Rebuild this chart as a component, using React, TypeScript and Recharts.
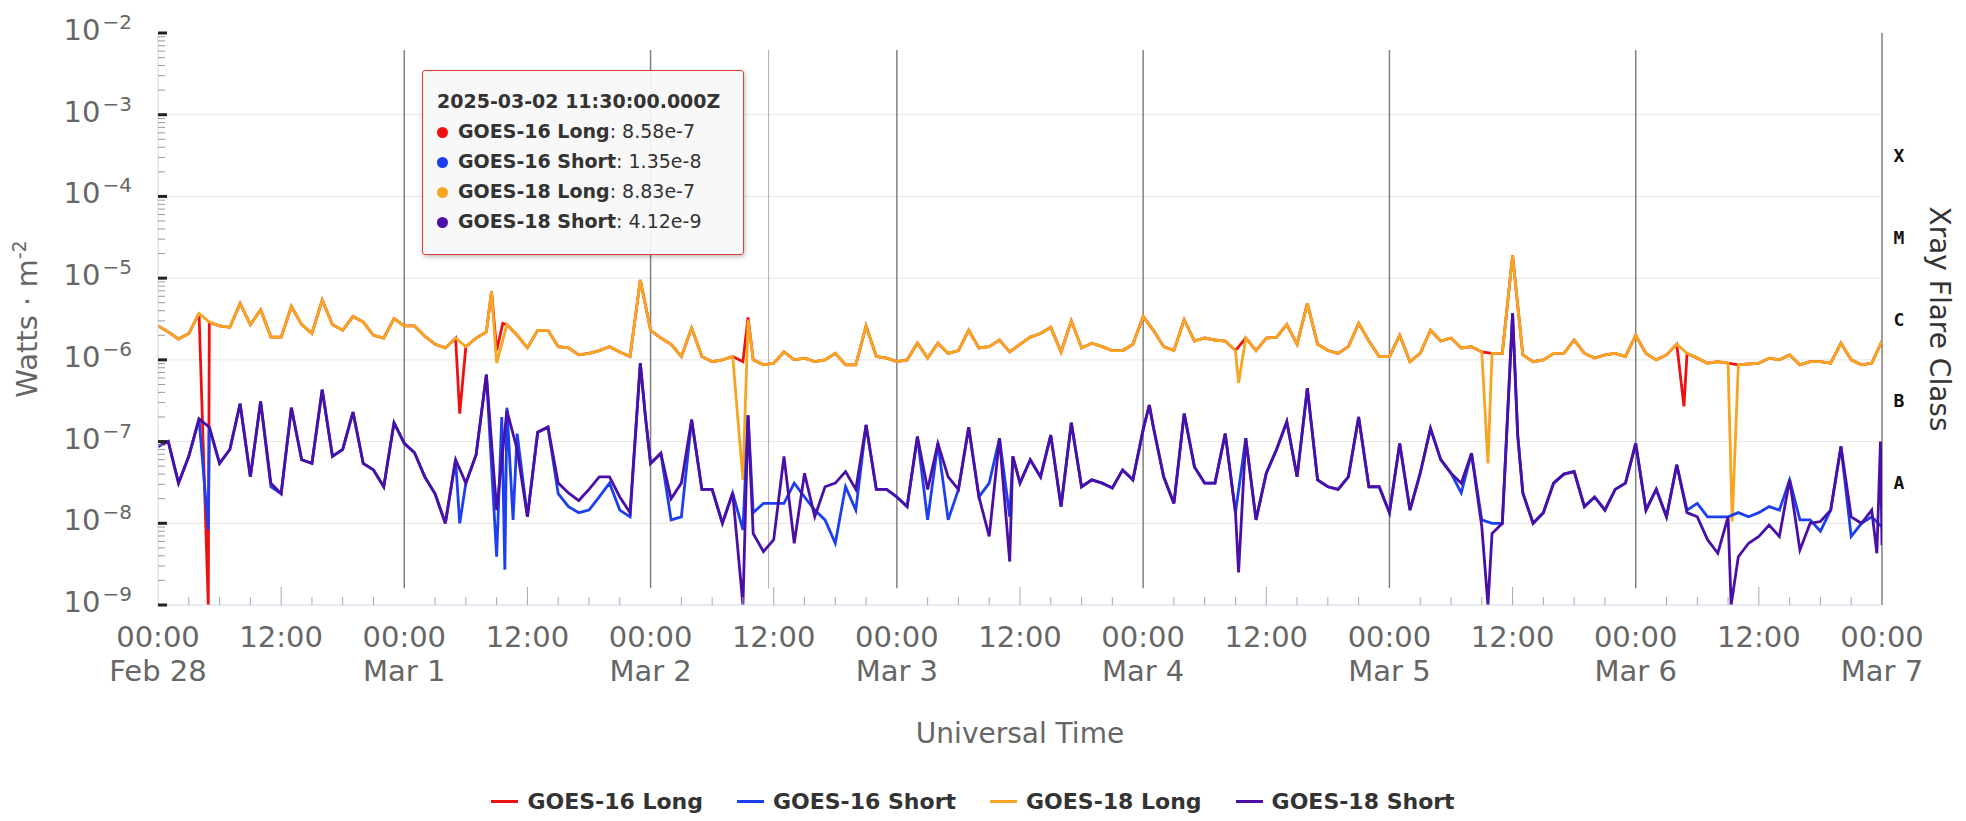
import { LineChart, Line, XAxis, YAxis, ReferenceLine, Legend } from "recharts";

const FONT = "'DejaVu Sans', Verdana, sans-serif";
const MONO = "'DejaVu Sans Mono', monospace";

// x = hours after 2025-02-28 00:00 UTC, hourly samples 0..168
const dayLabels = ["Feb 28", "Mar 1", "Mar 2", "Mar 3", "Mar 4", "Mar 5", "Mar 6", "Mar 7"];
const clockLabels = ["00:00", "12:00"];
const timeTicks = Array.from({ length: 57 }, (_, i) => i * 3);
const decades = [-9, -8, -7, -6, -5, -4, -3, -2];
const flareClasses = ["A", "B", "C", "M", "X"];
const flareFloors = [1e-8, 1e-7, 1e-6, 1e-5, 1e-4];

const tipTime = "2025-03-02 11:30:00.000Z";
const tipHour = 59.5;
const tipValues = [8.58e-7, 1.35e-8, 8.83e-7, 4.12e-9];

const g18Long = [
  2.6e-6, 2.2e-6, 1.8e-6, 2.1e-6, 3.7e-6, 2.9e-6, 2.6e-6, 2.5e-6, 4.9e-6, 2.7e-6, 4.1e-6, 1.9e-6,
  1.9e-6, 4.5e-6, 2.7e-6, 2.1e-6, 5.4e-6, 2.7e-6, 2.3e-6, 3.4e-6, 2.9e-6, 2.0e-6, 1.85e-6, 3.2e-6,
  2.6e-6, 2.6e-6, 1.95e-6, 1.55e-6, 1.4e-6, 1.85e-6, 1.45e-6, 1.85e-6, 2.2e-6, 9.1e-7, 2.7e-6, 2.0e-6,
  1.4e-6, 2.3e-6, 2.3e-6, 1.45e-6, 1.4e-6, 1.15e-6, 1.2e-6, 1.3e-6, 1.45e-6, 1.25e-6, 1.1e-6, 9.5e-6,
  2.3e-6, 1.85e-6, 1.55e-6, 1.1e-6, 2.45e-6, 1.1e-6, 9.5e-7, 1.0e-6, 1.1e-6, 3.4e-8, 1.0e-6, 8.7e-7,
  9.1e-7, 1.25e-6, 1.0e-6, 1.05e-6, 9.5e-7, 1.0e-6, 1.2e-6, 8.7e-7, 8.7e-7, 2.6e-6, 1.1e-6, 1.05e-6,
  9.5e-7, 1.0e-6, 1.6e-6, 1.05e-6, 1.6e-6, 1.2e-6, 1.3e-6, 2.3e-6, 1.4e-6, 1.45e-6, 1.75e-6, 1.25e-6,
  1.55e-6, 1.9e-6, 2.1e-6, 2.5e-6, 1.25e-6, 3.0e-6, 1.4e-6, 1.6e-6, 1.45e-6, 1.3e-6, 1.3e-6, 1.55e-6,
  3.4e-6, 2.3e-6, 1.45e-6, 1.3e-6, 3.1e-6, 1.7e-6, 1.85e-6, 1.75e-6, 1.7e-6, 1.3e-6, 1.85e-6, 1.3e-6,
  1.85e-6, 1.9e-6, 2.7e-6, 1.55e-6, 4.9e-6, 1.55e-6, 1.3e-6, 1.2e-6, 1.45e-6, 2.8e-6, 1.7e-6, 1.1e-6,
  1.1e-6, 2.0e-6, 9.5e-7, 1.2e-6, 2.3e-6, 1.7e-6, 1.85e-6, 1.4e-6, 1.45e-6, 1.25e-6, 1.2e-6, 1.2e-6,
  1.9e-5, 1.15e-6, 9.5e-7, 1.0e-6, 1.2e-6, 1.2e-6, 1.75e-6, 1.2e-6, 1.05e-6, 1.15e-6, 1.2e-6, 1.1e-6,
  2.0e-6, 1.2e-6, 1.0e-6, 1.15e-6, 1.55e-6, 1.2e-6, 1.05e-6, 9.1e-7, 9.5e-7, 9.1e-7, 8.7e-7, 8.9e-7,
  9.1e-7, 1.05e-6, 1.0e-6, 1.15e-6, 8.7e-7, 9.5e-7, 9.5e-7, 9.1e-7, 1.6e-6, 1.0e-6, 8.7e-7, 9.1e-7,
  1.7e-6,
];

const g16Long = [
  2.6e-6, 2.2e-6, 1.8e-6, 2.1e-6, 3.7e-6, 2.9e-6, 2.6e-6, 2.5e-6, 4.9e-6, 2.7e-6, 4.1e-6, 1.9e-6,
  1.9e-6, 4.5e-6, 2.7e-6, 2.1e-6, 5.4e-6, 2.7e-6, 2.3e-6, 3.4e-6, 2.9e-6, 2.0e-6, 1.85e-6, 3.2e-6,
  2.6e-6, 2.6e-6, 1.95e-6, 1.55e-6, 1.4e-6, 1.85e-6, 1.45e-6, 1.85e-6, 2.2e-6, 1.3e-6, 2.7e-6, 2.0e-6,
  1.4e-6, 2.3e-6, 2.3e-6, 1.45e-6, 1.4e-6, 1.15e-6, 1.2e-6, 1.3e-6, 1.45e-6, 1.25e-6, 1.1e-6, 9.5e-6,
  2.3e-6, 1.85e-6, 1.55e-6, 1.1e-6, 2.45e-6, 1.1e-6, 9.5e-7, 1.0e-6, 1.1e-6, 9.5e-7, 1.0e-6, 8.7e-7,
  9.1e-7, 1.25e-6, 1.0e-6, 1.05e-6, 9.5e-7, 1.0e-6, 1.2e-6, 8.7e-7, 8.7e-7, 2.6e-6, 1.1e-6, 1.05e-6,
  9.5e-7, 1.0e-6, 1.6e-6, 1.05e-6, 1.6e-6, 1.2e-6, 1.3e-6, 2.3e-6, 1.4e-6, 1.45e-6, 1.75e-6, 1.25e-6,
  1.55e-6, 1.9e-6, 2.1e-6, 2.5e-6, 1.25e-6, 3.0e-6, 1.4e-6, 1.6e-6, 1.45e-6, 1.3e-6, 1.3e-6, 1.55e-6,
  3.4e-6, 2.3e-6, 1.45e-6, 1.3e-6, 3.1e-6, 1.7e-6, 1.85e-6, 1.75e-6, 1.7e-6, 1.3e-6, 1.85e-6, 1.3e-6,
  1.85e-6, 1.9e-6, 2.7e-6, 1.55e-6, 4.9e-6, 1.55e-6, 1.3e-6, 1.2e-6, 1.45e-6, 2.8e-6, 1.7e-6, 1.1e-6,
  1.1e-6, 2.0e-6, 9.5e-7, 1.2e-6, 2.3e-6, 1.7e-6, 1.85e-6, 1.4e-6, 1.45e-6, 1.25e-6, 1.2e-6, 1.2e-6,
  1.9e-5, 1.15e-6, 9.5e-7, 1.0e-6, 1.2e-6, 1.2e-6, 1.75e-6, 1.2e-6, 1.05e-6, 1.15e-6, 1.2e-6, 1.1e-6,
  2.0e-6, 1.2e-6, 1.0e-6, 1.15e-6, 1.55e-6, 1.2e-6, 1.05e-6, 9.1e-7, 9.5e-7, 9.1e-7, 8.7e-7, 8.9e-7,
  9.1e-7, 1.05e-6, 1.0e-6, 1.15e-6, 8.7e-7, 9.5e-7, 9.5e-7, 9.1e-7, 1.6e-6, 1.0e-6, 8.7e-7, 9.1e-7,
  1.7e-6,
];

const g18Short = [
  8.7e-8, 1.0e-7, 3.1e-8, 6.6e-8, 1.9e-7, 1.5e-7, 5.4e-8, 8.0e-8, 2.9e-7, 3.7e-8, 3.1e-7, 3.1e-8,
  2.3e-8, 2.6e-7, 6.0e-8, 5.4e-8, 4.3e-7, 6.6e-8, 8.0e-8, 2.3e-7, 5.4e-8, 4.5e-8, 2.8e-8, 1.7e-7,
  9.5e-8, 7.3e-8, 3.7e-8, 2.3e-8, 1.0e-8, 6.0e-8, 3.1e-8, 6.9e-8, 6.6e-7, 1.45e-8, 2.4e-7, 8.0e-8,
  1.2e-8, 1.3e-7, 1.5e-7, 3.1e-8, 2.35e-8, 1.9e-8, 2.6e-8, 3.7e-8, 3.7e-8, 2.1e-8, 1.35e-8, 9.1e-7,
  5.4e-8, 7.2e-8, 2.0e-8, 3.1e-8, 1.85e-7, 2.6e-8, 2.6e-8, 1.0e-8, 2.35e-8, 1.0e-9, 7.5e-9, 4.5e-9,
  6.3e-9, 6.6e-8, 5.7e-9, 4.1e-8, 1.2e-8, 2.8e-8, 3.1e-8, 4.3e-8, 2.6e-8, 1.6e-7, 2.6e-8, 2.6e-8,
  2.1e-8, 1.6e-8, 1.15e-7, 2.6e-8, 9.5e-8, 3.7e-8, 2.6e-8, 1.5e-7, 2.1e-8, 6.9e-9, 1.1e-7, 3.4e-9,
  3.1e-8, 6.0e-8, 3.7e-8, 1.2e-7, 1.6e-8, 1.7e-7, 2.8e-8, 3.4e-8, 3.1e-8, 2.7e-8, 4.5e-8, 3.4e-8,
  1.4e-7, 1.5e-7, 3.7e-8, 1.75e-8, 2.2e-7, 4.9e-8, 3.1e-8, 3.1e-8, 1.25e-7, 1.35e-8, 1.1e-7, 1.1e-8,
  4.1e-8, 8.0e-8, 1.75e-7, 3.7e-8, 4.5e-7, 3.4e-8, 2.8e-8, 2.6e-8, 3.7e-8, 2.0e-7, 2.8e-8, 2.8e-8,
  1.35e-8, 9.5e-8, 1.45e-8, 4.1e-8, 1.45e-7, 6.0e-8, 4.1e-8, 3.1e-8, 7.2e-8, 9.1e-9, 7.5e-9, 1.0e-8,
  3.7e-6, 2.35e-8, 1.0e-8, 1.35e-8, 3.1e-8, 4.0e-8, 4.3e-8, 1.6e-8, 2.1e-8, 1.45e-8, 2.6e-8, 3.1e-8,
  9.5e-8, 1.45e-8, 2.6e-8, 1.2e-8, 5.2e-8, 1.35e-8, 1.2e-8, 6.3e-9, 4.3e-9, 1.2e-8, 3.9e-9, 5.7e-9,
  6.9e-9, 9.5e-9, 6.9e-9, 3.4e-8, 4.7e-9, 1.0e-8, 1.05e-8, 1.45e-8, 8.7e-8, 1.2e-8, 1.0e-8, 1.45e-8,
  5.4e-9,
];

const g16Short = [
  8.7e-8, 1.0e-7, 3.1e-8, 6.6e-8, 1.9e-7, 1.5e-7, 5.4e-8, 8.0e-8, 2.9e-7, 3.7e-8, 3.1e-7, 2.8e-8,
  2.3e-8, 2.6e-7, 6.0e-8, 5.4e-8, 4.3e-7, 6.6e-8, 8.0e-8, 2.3e-7, 5.4e-8, 4.5e-8, 2.8e-8, 1.7e-7,
  9.5e-8, 7.3e-8, 3.7e-8, 2.3e-8, 1.0e-8, 6.0e-8, 3.1e-8, 6.9e-8, 6.6e-7, 3.9e-9, 2.6e-7, 1.25e-7,
  1.2e-8, 1.3e-7, 1.5e-7, 2.3e-8, 1.6e-8, 1.35e-8, 1.45e-8, 2.1e-8, 3.1e-8, 1.45e-8, 1.2e-8, 9.1e-7,
  5.4e-8, 7.2e-8, 1.1e-8, 1.2e-8, 1.85e-7, 2.6e-8, 2.6e-8, 1.0e-8, 2.35e-8, 8.3e-9, 1.35e-8, 1.75e-8,
  1.75e-8, 1.75e-8, 3.1e-8, 2.1e-8, 1.45e-8, 1.1e-8, 5.7e-9, 2.8e-8, 1.45e-8, 1.6e-7, 2.6e-8, 2.6e-8,
  2.1e-8, 1.6e-8, 1.15e-7, 1.1e-8, 9.5e-8, 1.1e-8, 2.6e-8, 1.5e-7, 2.1e-8, 3.1e-8, 1.1e-7, 1.2e-8,
  3.1e-8, 6.0e-8, 3.7e-8, 1.2e-7, 1.6e-8, 1.7e-7, 2.8e-8, 3.4e-8, 3.1e-8, 2.7e-8, 4.5e-8, 3.4e-8,
  1.4e-7, 1.5e-7, 3.7e-8, 1.75e-8, 2.2e-7, 4.9e-8, 3.1e-8, 3.1e-8, 1.25e-7, 1.35e-8, 1.1e-7, 1.1e-8,
  4.1e-8, 8.0e-8, 1.75e-7, 3.7e-8, 4.5e-7, 3.4e-8, 2.8e-8, 2.6e-8, 3.7e-8, 2.0e-7, 2.8e-8, 2.8e-8,
  1.35e-8, 9.5e-8, 1.45e-8, 4.1e-8, 1.45e-7, 6.0e-8, 4.1e-8, 2.35e-8, 7.2e-8, 1.1e-8, 1.0e-8, 1.0e-8,
  3.7e-6, 2.35e-8, 1.0e-8, 1.35e-8, 3.1e-8, 4.0e-8, 4.3e-8, 1.6e-8, 2.1e-8, 1.45e-8, 2.6e-8, 3.1e-8,
  9.5e-8, 1.45e-8, 2.6e-8, 1.2e-8, 5.2e-8, 1.45e-8, 1.75e-8, 1.2e-8, 1.2e-8, 1.2e-8, 1.35e-8, 1.2e-8,
  1.35e-8, 1.6e-8, 1.45e-8, 3.4e-8, 1.1e-8, 1.1e-8, 8.0e-9, 1.45e-8, 8.7e-8, 6.9e-9, 1.0e-8, 1.2e-8,
  9.0e-9,
];

// sub-hourly samples: dropouts and sharp flare peaks [hour, W/m2]
const g16LongExtra: [number, number][] = [
  [4.9, 1.0e-9], [29.4, 2.2e-7], [32.5, 6.9e-6], [33.6, 2.8e-6], [57.5, 3.3e-6], [148.7, 2.7e-7],
];
const g18LongExtra: [number, number][] = [
  [32.5, 6.9e-6], [57.5, 3.1e-6], [105.3, 5.2e-7], [129.6, 5.4e-8], [153.4, 1.05e-8],
];
const g16ShortExtra: [number, number][] = [
  [4.9, 8.3e-9], [29.4, 1.0e-8], [33.5, 2.0e-7], [33.8, 2.7e-9], [34.6, 1.1e-8], [47.5, 2.0e-7],
  [57.5, 2.1e-7], [83.3, 6.6e-8], [96.6, 2.8e-7], [132.5, 1.2e-7],
];
const g18ShortExtra: [number, number][] = [
  [47.5, 2.0e-7], [57.5, 2.1e-7], [83.3, 6.6e-8], [96.6, 2.8e-7], [105.3, 2.5e-9], [129.6, 1.0e-9],
  [132.5, 1.2e-7], [153.3, 1.0e-9], [167.5, 4.3e-9], [167.85, 1.0e-7],
];

const series = [
  { name: "GOES-16 Long", color: "#ee1111", hourly: g16Long, extra: g16LongExtra },
  { name: "GOES-16 Short", color: "#1c3ff0", hourly: g16Short, extra: g16ShortExtra },
  { name: "GOES-18 Long", color: "#f6a623", hourly: g18Long, extra: g18LongExtra },
  { name: "GOES-18 Short", color: "#4a0fa6", hourly: g18Short, extra: g18ShortExtra },
];
const drawOrder = [0, 2, 1, 3];

const rows = (hourly: number[], extra: [number, number][]) =>
  [...hourly.map((v, t) => ({ t, v })), ...extra.map(([t, v]) => ({ t, v }))].sort((a, b) => a.t - b.t);

const wattTicks = decades.flatMap((e) =>
  e === -2 ? [10 ** e] : [1, 2, 3, 4, 5, 6, 7, 8, 9].map((m) => m * 10 ** e)
);
const classTicks = flareFloors.map((f) => f * Math.sqrt(10));

// vertical day lines stop a little short of both plot edges
const lineLo = 1.6e-9;
const lineHi = 6.2e-3;

function BottomTick(props: any) {
  const { x, y, payload } = props;
  const h = payload.value as number;
  const major = h % 12 === 0;
  const len = h % 24 === 0 ? 0 : major ? 18 : 8;
  return (
    <g>
      {len > 0 && <line x1={x} x2={x} y1={y} y2={y - len} stroke="#aaa" />}
      {major && (
        <text x={x} y={y + 42} textAnchor="middle" fill="#666" fontSize={29} fontFamily={FONT}>
          <tspan x={x}>{clockLabels[(h / 12) % 2]}</tspan>
          {h % 24 === 0 && (
            <tspan x={x} dy={34}>
              {dayLabels[h / 24]}
            </tspan>
          )}
        </text>
      )}
    </g>
  );
}

function TopTick(props: any) {
  const { x, y, payload } = props;
  const h = payload.value as number;
  const len = h % 24 === 0 ? 0 : h % 12 === 0 ? 18 : 8;
  if (!len) return <g />;
  return <line x1={x} x2={x} y1={y} y2={y + len} stroke="#aaa" />;
}

function WattTick(props: any) {
  const { x, y, payload } = props;
  const lg = Math.log10(payload.value);
  const e = Math.round(lg);
  if (Math.abs(lg - e) > 1e-6) return <line x1={x} x2={x + 7} y1={y} y2={y} stroke="#999" />;
  return (
    <g>
      <line x1={x} x2={x + 9} y1={y} y2={y} stroke="#222" strokeWidth={3} />
      <text x={x - 26} y={y + 7} textAnchor="end" fill="#666" fontFamily={FONT}>
        <tspan fontSize={29}>10</tspan>
        <tspan fontSize={20} dx={2} dy={-11}>
          {"\u2212" + Math.abs(e)}
        </tspan>
      </text>
    </g>
  );
}

function ClassTick(props: any) {
  const { x, y, payload } = props;
  const i = flareFloors.findIndex((f) => Math.abs(Math.log10(payload.value / f) - 0.5) < 1e-6);
  return (
    <text x={x + 17} y={y} textAnchor="middle" dominantBaseline="central" fill="#111" fontSize={18} fontWeight="bold" fontFamily={MONO}>
      {flareClasses[i]}
    </text>
  );
}

function WattLabel(props: any) {
  const { viewBox } = props;
  const cx = viewBox.x + 27;
  const cy = viewBox.y + viewBox.height / 2;
  return (
    <text transform={`rotate(-90 ${cx} ${cy})`} x={cx} y={cy + 10} textAnchor="middle" fill="#666" fontSize={29} fontFamily={FONT}>
      Watts · m
      <tspan fontSize={19} dy={-11}>
        -2
      </tspan>
    </text>
  );
}

function ClassLabel(props: any) {
  const { viewBox } = props;
  const cx = viewBox.x + 58;
  const cy = viewBox.y + viewBox.height / 2;
  return (
    <text transform={`rotate(90 ${cx} ${cy})`} x={cx} y={cy + 10} textAnchor="middle" fill="#333" fontSize={28} fontFamily={FONT}>
      Xray Flare Class
    </text>
  );
}

function TimeLabel(props: any) {
  const { viewBox } = props;
  return (
    <text x={viewBox.x + viewBox.width / 2} y={viewBox.y + 138} textAnchor="middle" fill="#666" fontSize={28} fontFamily={FONT}>
      Universal Time
    </text>
  );
}

function LegendRow() {
  return (
    <div style={{ display: "flex", justifyContent: "center", alignItems: "center", gap: 34, fontFamily: FONT, fontWeight: "bold", fontSize: 22, color: "#333" }}>
      {series.map((s) => (
        <div key={s.name} style={{ display: "flex", alignItems: "center" }}>
          <span style={{ display: "inline-block", width: 27, height: 3, background: s.color, marginRight: 9 }} />
          <span>{s.name}</span>
        </div>
      ))}
    </div>
  );
}

export default function App() {
  return (
    <div style={{ position: "absolute", left: 0, top: 0, width: 1966, height: 821, background: "#fff", fontFamily: FONT }}>
      <LineChart width={1966} height={821} margin={{ top: 33, right: 0, bottom: 0, left: 0 }}>
        <XAxis
          xAxisId="t"
          dataKey="t"
          type="number"
          domain={[0, 168]}
          ticks={timeTicks}
          interval={0}
          allowDataOverflow
          height={216}
          tickSize={0}
          tickMargin={0}
          tickLine={false}
          axisLine={{ stroke: "#ccd6eb" }}
          tick={<BottomTick />}
          label={<TimeLabel />}
        />
        <XAxis
          xAxisId="top"
          dataKey="t"
          orientation="top"
          type="number"
          domain={[0, 168]}
          ticks={timeTicks}
          interval={0}
          height={0}
          tickSize={0}
          tickMargin={0}
          tickLine={false}
          axisLine={{ stroke: "#ccd6eb", strokeWidth: 2 }}
          tick={<TopTick />}
        />
        <YAxis
          yAxisId="w"
          scale="log"
          domain={[1e-9, 1e-2]}
          allowDataOverflow
          ticks={wattTicks}
          interval={0}
          width={158}
          tickSize={0}
          tickMargin={0}
          tickLine={false}
          axisLine={{ stroke: "#ccd6eb" }}
          tick={<WattTick />}
          label={<WattLabel />}
        />
        <YAxis
          yAxisId="cls"
          orientation="right"
          scale="log"
          domain={[1e-9, 1e-2]}
          allowDataOverflow
          ticks={classTicks}
          interval={0}
          width={84}
          tickSize={0}
          tickMargin={0}
          tickLine={false}
          axisLine={false}
          tick={<ClassTick />}
          label={<ClassLabel />}
        />

        {decades.slice(1, -1).map((e) => (
          <ReferenceLine key={e} xAxisId="t" yAxisId="w" y={10 ** e} stroke="#e6e6e6" />
        ))}
        {[1, 2, 3, 4, 5, 6].map((d) => (
          <ReferenceLine
            key={d}
            xAxisId="t"
            yAxisId="w"
            segment={[{ x: d * 24, y: lineLo }, { x: d * 24, y: lineHi }]}
            stroke="#808080"
            strokeWidth={1.5}
          />
        ))}
        <ReferenceLine xAxisId="t" yAxisId="w" segment={[{ x: tipHour, y: lineLo }, { x: tipHour, y: lineHi }]} stroke="#b0b0b0" />
        <ReferenceLine xAxisId="t" yAxisId="w" x={168} stroke="#808080" strokeWidth={1.5} />

        {drawOrder.map((i) => {
          const s = series[i];
          return (
            <Line
              key={s.name}
              xAxisId="t"
              yAxisId="w"
              data={rows(s.hourly, s.extra)}
              dataKey="v"
              name={s.name}
              type="linear"
              stroke={s.color}
              strokeWidth={2.8}
              dot={false}
              activeDot={false}
              isAnimationActive={false}
            />
          );
        })}

        <Legend verticalAlign="middle" align="center" layout="horizontal" wrapperStyle={{ top: 789, left: -10, width: 1966 }} content={() => <LegendRow />} />
      </LineChart>

      <div
        style={{
          position: "absolute",
          left: 422,
          top: 70,
          width: 322,
          boxSizing: "border-box",
          padding: "15px 14px 18px",
          background: "rgba(247,247,247,0.93)",
          border: "1px solid #e03a3a",
          borderRadius: 3,
          boxShadow: "1px 2px 4px rgba(0,0,0,0.25)",
          fontSize: 19,
          lineHeight: "30px",
          color: "#333",
          whiteSpace: "nowrap",
        }}
      >
        <div style={{ fontWeight: "bold" }}>{tipTime}</div>
        {series.map((s, i) => (
          <div key={s.name}>
            <span style={{ display: "inline-block", width: 11, height: 11, borderRadius: "50%", background: s.color, marginRight: 10 }} />
            <b>{s.name}</b>: {tipValues[i].toExponential(2)}
          </div>
        ))}
      </div>
    </div>
  );
}
